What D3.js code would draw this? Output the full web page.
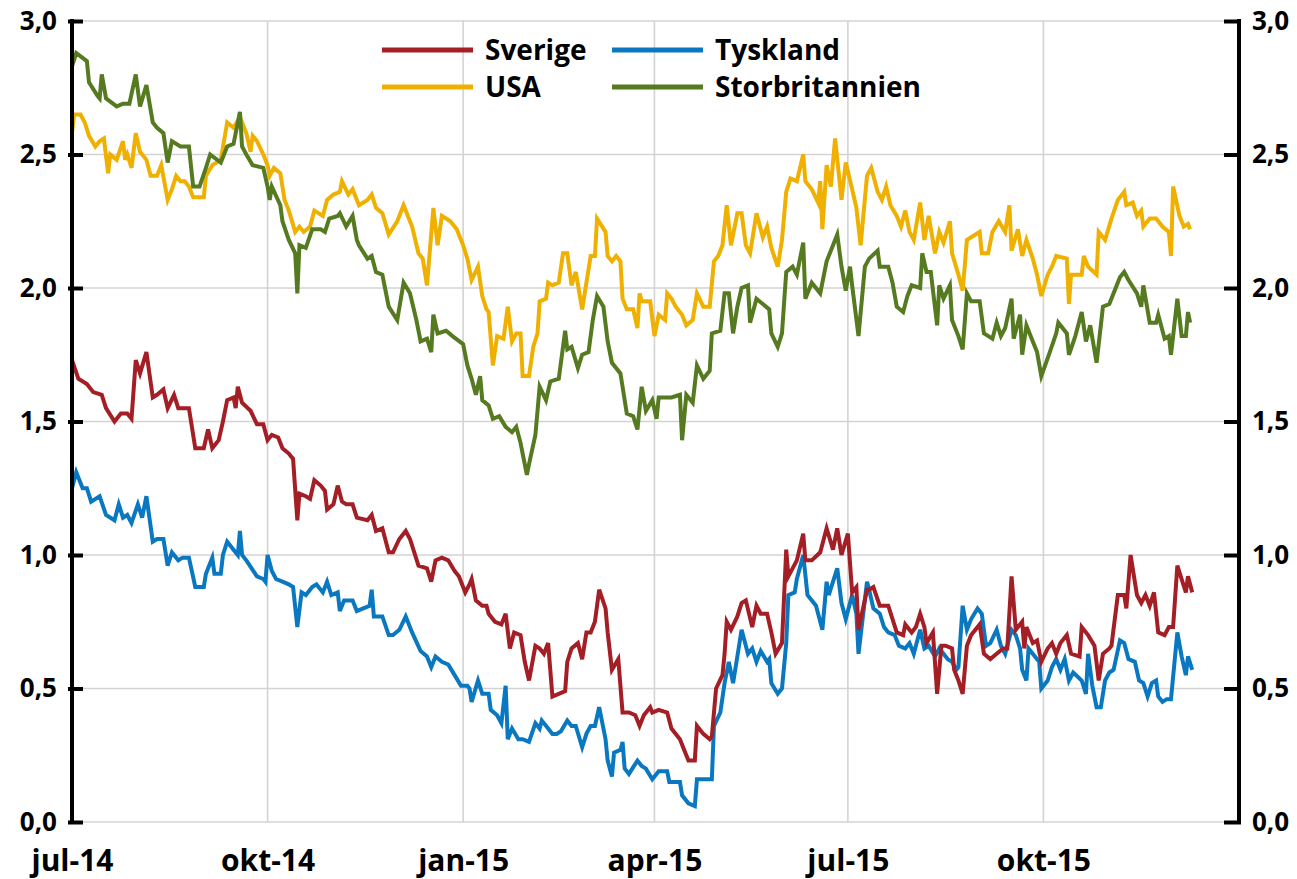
<!DOCTYPE html>
<html>
<head>
<meta charset="utf-8">
<title>Räntor</title>
<script src="https://cdn.jsdelivr.net/npm/d3@7"></script>
<style>
  body { margin: 0; background: #fff; }
  #chart text { font-family: "Open Sans", sans-serif; font-weight: 700; fill: #000; }
</style>
</head>
<body>
<svg id="chart" width="1297" height="879"></svg>
<script>
"use strict"

// dagar räknas från 1 jul 2014
var startDatum = new Date(2014, 6, 1);
var slutDatum = new Date(2016, 0, 1);

var yTicks = [0, 0.5, 1, 1.5, 2, 2.5, 3];
var xTickDatum = ["2014-07-01", "2014-10-01", "2015-01-01", "2015-04-01", "2015-07-01", "2015-10-01"];
var xTickEtiketter = ["jul-14", "okt-14", "jan-15", "apr-15", "jul-15", "okt-15"];

var serieNamn = ["Sverige", "Tyskland", "USA", "Storbritannien"];
var serieFarger = ["#a41e25", "#0a78c0", "#efb000", "#557a20"];

// [dag, procent]
var sverige = [[0,1.73],[3,1.66],[7,1.64],[10,1.61],[14,1.60],[16,1.55],[20,1.50],[23,1.53],[26,1.53],[28,1.51],[30,1.73],[32,1.68],[35,1.76],[38,1.59],[40,1.60],[43,1.62],[45,1.55],[48,1.60],[50,1.55],[52,1.55],[55,1.55],[58,1.40],[62,1.40],[64,1.47],[66,1.40],[69,1.43],[71,1.50],[73,1.58],[76,1.59],[77,1.55],[78,1.63],[80,1.57],[84,1.54],[87,1.49],[90,1.49],[92,1.43],[94,1.45],[97,1.44],[99,1.40],[102,1.38],[104,1.36],[106,1.13],[107,1.23],[110,1.22],[112,1.21],[114,1.28],[117,1.26],[119,1.24],[120,1.17],[123,1.19],[125,1.26],[127,1.20],[129,1.19],[132,1.19],[134,1.14],[139,1.13],[141,1.15],[143,1.09],[146,1.10],[149,1.01],[151,1.01],[154,1.06],[157,1.09],[159,1.06],[163,0.96],[167,0.95],[169,0.90],[171,0.98],[174,0.99],[177,0.98],[180,0.94],[182,0.92],[185,0.86],[187,0.89],[188,0.91],[190,0.83],[193,0.81],[195,0.81],[196,0.78],[199,0.75],[202,0.74],[204,0.78],[206,0.65],[208,0.71],[211,0.70],[213,0.60],[215,0.53],[218,0.66],[220,0.65],[222,0.63],[224,0.67],[226,0.47],[229,0.48],[232,0.49],[233,0.60],[235,0.65],[238,0.67],[240,0.61],[242,0.71],[244,0.71],[246,0.75],[248,0.87],[251,0.80],[252,0.71],[254,0.57],[257,0.61],[259,0.41],[262,0.41],[265,0.40],[267,0.36],[269,0.40],[272,0.43],[273,0.41],[276,0.42],[280,0.41],[282,0.35],[286,0.31],[288,0.27],[290,0.23],[293,0.23],[294,0.36],[297,0.33],[300,0.31],[301,0.32],[303,0.50],[306,0.55],[307,0.63],[308,0.75],[310,0.72],[313,0.77],[315,0.82],[317,0.83],[320,0.73],[322,0.81],[324,0.78],[327,0.78],[329,0.71],[331,0.63],[334,0.67],[336,1.02],[337,0.92],[341,0.98],[344,1.08],[345,0.98],[348,0.98],[352,1.01],[355,1.10],[358,1.02],[360,1.10],[362,1.00],[365,1.08],[367,0.86],[369,0.88],[370,0.72],[374,0.87],[375,0.87],[377,0.88],[380,0.81],[382,0.81],[384,0.81],[386,0.76],[388,0.71],[391,0.70],[392,0.74],[395,0.71],[397,0.73],[399,0.78],[401,0.73],[402,0.67],[405,0.71],[407,0.48],[409,0.66],[411,0.66],[414,0.65],[415,0.57],[417,0.53],[419,0.48],[421,0.66],[423,0.70],[427,0.74],[429,0.63],[432,0.61],[435,0.63],[438,0.65],[440,0.65],[442,0.92],[444,0.72],[447,0.75],[448,0.65],[449,0.73],[452,0.67],[454,0.68],[456,0.60],[459,0.65],[461,0.67],[463,0.63],[465,0.67],[468,0.70],[470,0.63],[474,0.62],[475,0.73],[478,0.70],[481,0.66],[483,0.53],[485,0.63],[488,0.65],[489,0.66],[492,0.85],[495,0.85],[496,0.80],[498,1.00],[501,0.85],[503,0.82],[505,0.85],[507,0.81],[509,0.86],[511,0.71],[514,0.70],[516,0.73],[518,0.73],[520,0.96],[522,0.91],[524,0.86],[525,0.92],[527,0.86]];

var tyskland = [[0,1.25],[2,1.31],[5,1.25],[7,1.25],[9,1.20],[13,1.22],[16,1.15],[20,1.13],[22,1.19],[24,1.14],[26,1.15],[28,1.12],[31,1.19],[33,1.14],[35,1.22],[38,1.05],[40,1.06],[43,1.06],[45,0.96],[47,1.01],[50,0.98],[52,0.99],[55,0.99],[58,0.88],[62,0.88],[63,0.93],[66,0.99],[67,0.93],[70,0.93],[71,1.00],[73,1.05],[76,1.02],[78,1.00],[79,1.09],[80,1.00],[82,0.98],[87,0.92],[90,0.91],[91,0.90],[92,1.00],[94,0.94],[96,0.91],[99,0.90],[102,0.89],[104,0.88],[106,0.73],[108,0.86],[110,0.85],[113,0.88],[115,0.89],[118,0.86],[120,0.90],[122,0.85],[125,0.86],[126,0.79],[128,0.83],[132,0.83],[134,0.79],[137,0.80],[140,0.81],[141,0.87],[142,0.77],[146,0.77],[149,0.70],[151,0.70],[154,0.72],[157,0.77],[160,0.71],[164,0.64],[167,0.62],[169,0.58],[171,0.62],[174,0.60],[177,0.59],[180,0.55],[183,0.51],[186,0.51],[187,0.50],[188,0.45],[191,0.53],[193,0.48],[196,0.48],[197,0.42],[200,0.40],[202,0.37],[204,0.51],[205,0.31],[207,0.35],[210,0.31],[212,0.31],[215,0.30],[218,0.37],[220,0.35],[221,0.38],[224,0.35],[226,0.33],[228,0.33],[230,0.34],[233,0.38],[235,0.36],[237,0.36],[240,0.28],[242,0.33],[244,0.36],[246,0.36],[248,0.43],[251,0.31],[252,0.23],[254,0.17],[255,0.26],[258,0.27],[259,0.30],[260,0.20],[262,0.18],[266,0.23],[268,0.21],[270,0.20],[273,0.16],[276,0.19],[280,0.19],[281,0.15],[284,0.15],[286,0.15],[287,0.10],[290,0.07],[293,0.06],[294,0.16],[298,0.16],[301,0.16],[302,0.36],[305,0.41],[307,0.52],[309,0.60],[311,0.52],[313,0.62],[315,0.72],[318,0.63],[320,0.65],[322,0.60],[324,0.64],[327,0.60],[328,0.61],[329,0.52],[332,0.48],[334,0.50],[336,0.67],[337,0.85],[340,0.86],[341,0.91],[344,1.00],[346,0.85],[350,0.81],[353,0.72],[355,0.90],[356,0.85],[360,0.95],[362,0.82],[364,0.76],[367,0.85],[369,0.78],[370,0.63],[374,0.90],[375,0.87],[377,0.80],[380,0.78],[382,0.73],[384,0.71],[387,0.70],[389,0.66],[392,0.65],[394,0.67],[396,0.63],[399,0.72],[401,0.65],[403,0.66],[406,0.62],[408,0.65],[410,0.63],[412,0.61],[414,0.60],[416,0.57],[417,0.58],[419,0.81],[421,0.72],[423,0.76],[426,0.80],[428,0.78],[430,0.66],[432,0.67],[435,0.72],[437,0.66],[439,0.63],[442,0.72],[444,0.70],[446,0.65],[447,0.57],[449,0.53],[450,0.65],[453,0.62],[455,0.60],[456,0.50],[459,0.53],[461,0.58],[463,0.61],[465,0.57],[467,0.61],[469,0.53],[471,0.56],[475,0.53],[477,0.48],[478,0.63],[480,0.51],[482,0.43],[484,0.43],[486,0.53],[488,0.56],[490,0.57],[493,0.68],[495,0.67],[497,0.61],[500,0.60],[502,0.53],[504,0.52],[506,0.47],[508,0.52],[510,0.53],[511,0.47],[513,0.45],[515,0.46],[517,0.46],[520,0.71],[522,0.62],[524,0.55],[525,0.62],[527,0.57]];

var usa = [[0,2.58],[1,2.65],[4,2.65],[6,2.62],[8,2.57],[11,2.53],[13,2.55],[15,2.56],[17,2.43],[18,2.50],[21,2.48],[24,2.55],[25,2.48],[26,2.50],[28,2.45],[30,2.58],[32,2.51],[35,2.48],[37,2.42],[40,2.42],[42,2.46],[45,2.33],[47,2.37],[49,2.42],[51,2.40],[53,2.40],[55,2.38],[57,2.34],[62,2.34],[63,2.42],[66,2.46],[70,2.48],[73,2.62],[76,2.60],[79,2.64],[82,2.58],[84,2.51],[85,2.57],[87,2.55],[90,2.50],[92,2.46],[93,2.42],[95,2.45],[98,2.43],[100,2.33],[102,2.29],[105,2.21],[107,2.23],[109,2.21],[112,2.23],[114,2.29],[118,2.27],[120,2.33],[123,2.35],[126,2.36],[127,2.40],[130,2.35],[132,2.37],[135,2.31],[139,2.33],[141,2.35],[143,2.30],[146,2.28],[149,2.20],[153,2.25],[156,2.31],[158,2.27],[160,2.23],[163,2.13],[165,2.11],[167,2.01],[170,2.30],[172,2.16],[174,2.27],[178,2.25],[181,2.22],[184,2.16],[186,2.11],[188,2.03],[191,2.08],[193,1.97],[195,1.92],[196,1.91],[198,1.71],[200,1.82],[203,1.81],[205,1.93],[207,1.80],[209,1.83],[211,1.83],[212,1.67],[215,1.67],[217,1.78],[219,1.83],[220,1.95],[223,1.96],[224,2.02],[226,2.01],[229,2.02],[231,2.13],[233,2.13],[235,2.01],[237,2.06],[240,1.92],[242,2.02],[244,2.12],[246,2.12],[247,2.26],[251,2.21],[252,2.12],[254,2.10],[256,2.12],[258,2.10],[259,1.96],[261,1.92],[264,1.92],[266,1.85],[267,1.98],[268,1.95],[272,1.95],[274,1.82],[276,1.90],[279,1.88],[280,1.98],[282,1.96],[284,1.93],[287,1.90],[289,1.86],[292,1.88],[294,1.98],[297,1.93],[300,1.93],[302,2.10],[304,2.12],[306,2.16],[308,2.31],[310,2.16],[313,2.28],[315,2.28],[317,2.16],[319,2.13],[322,2.28],[325,2.19],[327,2.23],[329,2.15],[332,2.08],[334,2.18],[336,2.36],[338,2.41],[341,2.40],[344,2.50],[345,2.40],[348,2.37],[351,2.32],[352,2.40],[353,2.22],[355,2.46],[357,2.38],[359,2.56],[362,2.33],[364,2.47],[367,2.37],[369,2.30],[371,2.16],[374,2.42],[376,2.45],[379,2.36],[381,2.33],[383,2.38],[385,2.31],[388,2.27],[390,2.23],[392,2.29],[394,2.21],[396,2.18],[399,2.32],[401,2.18],[403,2.27],[406,2.13],[408,2.21],[410,2.17],[413,2.25],[414,2.13],[417,2.05],[419,1.99],[421,2.18],[423,2.19],[427,2.21],[428,2.13],[431,2.13],[433,2.21],[436,2.25],[439,2.21],[441,2.31],[442,2.14],[445,2.22],[447,2.12],[449,2.18],[452,2.11],[454,2.05],[456,1.97],[459,2.05],[461,2.08],[463,2.12],[468,2.11],[469,1.94],[470,2.05],[475,2.05],[476,2.12],[478,2.08],[482,2.05],[483,2.21],[486,2.18],[489,2.26],[492,2.33],[495,2.36],[496,2.31],[499,2.32],[501,2.27],[503,2.29],[504,2.23],[507,2.26],[510,2.26],[513,2.23],[516,2.21],[517,2.12],[518,2.38],[521,2.27],[523,2.23],[525,2.24],[526,2.22]];

var storbritannien = [[0,2.83],[2,2.88],[7,2.85],[8,2.77],[12,2.72],[13,2.71],[14,2.80],[16,2.71],[21,2.68],[24,2.69],[27,2.69],[30,2.80],[32,2.68],[35,2.76],[38,2.62],[40,2.60],[43,2.58],[45,2.47],[47,2.55],[51,2.53],[55,2.53],[57,2.38],[60,2.38],[63,2.45],[65,2.50],[70,2.47],[73,2.53],[76,2.54],[79,2.66],[80,2.53],[82,2.50],[85,2.46],[90,2.45],[92,2.38],[93,2.33],[94,2.38],[98,2.31],[99,2.25],[102,2.18],[105,2.13],[106,1.98],[107,2.16],[110,2.15],[113,2.22],[117,2.22],[119,2.21],[121,2.26],[125,2.27],[126,2.28],[129,2.23],[132,2.27],[134,2.18],[135,2.16],[139,2.11],[141,2.12],[143,2.06],[146,2.05],[149,1.93],[153,1.88],[156,2.02],[159,1.98],[162,1.88],[164,1.80],[167,1.81],[169,1.76],[170,1.90],[172,1.83],[176,1.84],[179,1.82],[184,1.79],[186,1.71],[188,1.66],[190,1.60],[192,1.67],[193,1.58],[196,1.56],[198,1.51],[201,1.52],[204,1.48],[207,1.46],[209,1.48],[211,1.42],[212,1.38],[214,1.30],[215,1.34],[218,1.45],[220,1.63],[223,1.58],[225,1.65],[229,1.66],[232,1.84],[233,1.77],[235,1.78],[238,1.70],[240,1.75],[243,1.76],[245,1.88],[247,1.97],[250,1.93],[252,1.80],[254,1.72],[258,1.68],[259,1.63],[261,1.53],[264,1.52],[266,1.47],[268,1.63],[270,1.54],[273,1.58],[275,1.51],[276,1.59],[282,1.59],[286,1.60],[287,1.43],[289,1.60],[292,1.57],[294,1.71],[297,1.66],[300,1.69],[301,1.83],[305,1.84],[307,1.98],[309,1.98],[311,1.83],[313,1.93],[315,2.00],[318,2.01],[319,1.87],[322,1.96],[325,1.94],[328,1.92],[329,1.83],[332,1.78],[334,1.83],[336,2.06],[339,2.08],[341,2.05],[344,2.17],[345,1.96],[348,2.02],[352,1.98],[355,2.10],[360,2.20],[362,2.08],[364,1.99],[366,2.08],[367,2.01],[370,1.82],[373,2.08],[375,2.11],[379,2.14],[380,2.08],[384,2.08],[386,2.02],[388,1.93],[391,1.91],[393,1.97],[395,2.01],[399,2.00],[400,2.13],[402,2.06],[404,2.06],[407,1.86],[408,2.01],[410,1.96],[413,2.01],[414,1.88],[417,1.82],[419,1.77],[421,1.98],[423,1.95],[427,1.95],[429,1.83],[433,1.81],[435,1.87],[437,1.82],[439,1.85],[442,1.96],[443,1.81],[446,1.90],[447,1.75],[449,1.86],[452,1.80],[454,1.76],[456,1.67],[460,1.76],[463,1.83],[464,1.87],[468,1.83],[469,1.75],[472,1.82],[475,1.91],[477,1.80],[479,1.86],[482,1.72],[485,1.93],[488,1.94],[490,1.98],[493,2.04],[495,2.06],[497,2.03],[501,1.98],[503,1.93],[504,2.01],[507,1.87],[510,1.87],[511,1.90],[514,1.81],[516,1.82],[517,1.75],[520,1.96],[522,1.82],[524,1.82],[525,1.91],[526,1.87]];

var serieData = [sverige, tyskland, usa, storbritannien];

var svg = d3.select('#chart');

var vanster = 72, hoger = 1239, topp = 21, botten = 822;

var x = d3.scaleTime()
    .domain([startDatum, slutDatum])
    .range([vanster, hoger]);

var y = d3.scaleLinear()
    .domain([0, 3])
    .range([botten, topp]);

var parseDatum = d3.timeParse("%Y-%m-%d");
var xTicks = xTickDatum.map(parseDatum);

// rutnät
svg.append('g').selectAll('line')
    .data(yTicks)
    .enter().append('line')
    .attr('x1', vanster).attr('x2', hoger)
    .attr('y1', d => y(d)).attr('y2', d => y(d))
    .attr('stroke', '#d3d3d3').attr('stroke-width', 1.6);

svg.append('g').selectAll('line')
    .data(xTicks)
    .enter().append('line')
    .attr('x1', d => x(d)).attr('x2', d => x(d))
    .attr('y1', topp).attr('y2', botten)
    .attr('stroke', '#d3d3d3').attr('stroke-width', 1.6);

// linjer, ritas bakifrån
var linje = d3.line()
    .x(d => x(d3.timeDay.offset(startDatum, d[0])))
    .y(d => y(d[1]));

[2, 3, 1, 0].forEach(function(i) {
  svg.append('path')
      .datum(serieData[i])
      .attr('d', linje)
      .attr('fill', 'none')
      .attr('stroke', serieFarger[i])
      .attr('stroke-width', 4);
});

var format = d => d3.format(".1f")(d).replace(".", ",");

// vänster axel
var axelV = svg.append('g')
    .attr('transform', 'translate(68,0)')
    .call(d3.axisLeft(y).tickValues(yTicks).tickFormat(format).tickSizeInner(-15).tickSizeOuter(0).tickPadding(11));
axelV.select('.domain').remove();
axelV.selectAll('.tick line').attr('stroke', '#000').attr('stroke-width', 4);
axelV.selectAll('text').style('font-size', '26px');

svg.append('line')
    .attr('x1', vanster).attr('x2', vanster)
    .attr('y1', y(3) - 2).attr('y2', y(0) + 2)
    .attr('stroke', '#000').attr('stroke-width', 4);

// höger axel
var axelH = svg.append('g')
    .attr('transform', 'translate(1241,0)')
    .call(d3.axisRight(y).tickValues(yTicks).tickFormat(format).tickSizeInner(-17).tickSizeOuter(0).tickPadding(11));
axelH.select('.domain').remove();
axelH.selectAll('.tick line').attr('stroke', '#000').attr('stroke-width', 4);
axelH.selectAll('text').style('font-size', '26px');

svg.append('line')
    .attr('x1', hoger).attr('x2', hoger)
    .attr('y1', y(3) - 2).attr('y2', y(0) + 2)
    .attr('stroke', '#000').attr('stroke-width', 4);

// x-axel
var axelX = svg.append('g')
    .attr('transform', 'translate(0,' + botten + ')')
    .call(d3.axisBottom(x).tickValues(xTicks).tickFormat((d, i) => xTickEtiketter[i]).tickSize(0).tickPadding(28));
axelX.select('.domain').remove();
axelX.selectAll('text').style('font-size', '30px');

// legend
var legend = svg.append('g');
serieNamn.forEach(function(namn, i) {
  var kol = i % 2, rad = Math.floor(i / 2);
  var lx = 382 + kol * 230, ly = 50 + rad * 37;
  legend.append('line')
      .attr('x1', lx).attr('x2', lx + 91)
      .attr('y1', ly).attr('y2', ly)
      .attr('stroke', serieFarger[i]).attr('stroke-width', 5);
  legend.append('text')
      .attr('x', lx + 103).attr('y', ly)
      .attr('dy', '0.36em')
      .style('font-size', '28px')
      .text(namn);
});
</script>
</body>
</html>
